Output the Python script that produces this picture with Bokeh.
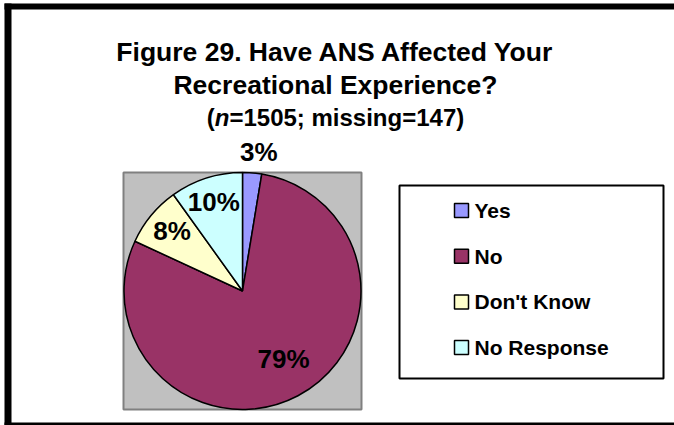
import math
from bokeh.plotting import figure
from bokeh.models import Range1d, ColumnDataSource
from bokeh.core.properties import value
from bokeh.embed import file_html
from bokeh.resources import INLINE

# ---- data ----
categories = ["Yes", "No", "Don't Know", "No Response"]
percents = [2.6, 79.3, 8.2, 9.9]
colors = ["#9999FF", "#993366", "#FFFFCC", "#CCFFFF"]
title_lines = ["Figure 29. Have ANS Affected Your", "Recreational Experience?"]
subtitle_parts = ["(", "n", "=1505; missing=147)"]

W, H = 674, 425
FONT = "Liberation Sans"


def Y(sy):
    # screen y (from top) -> data y (from bottom)
    return H - sy


p = figure(width=W, height=H, output_backend="svg", toolbar_location=None,
           x_range=Range1d(0, W), y_range=Range1d(0, H), min_border=0,
           background_fill_color="white", border_fill_color="white")
p.axis.visible = False
p.grid.visible = False
p.outline_line_color = None

# outer chart border (visible parts), drawn as thick lines
p.segment(x0=[7.5], y0=[Y(3)], x1=[7.5], y1=[0], line_color="black", line_width=7)
p.segment(x0=[4], y0=[Y(6)], x1=[W], y1=[Y(6)], line_color="black", line_width=6)
p.segment(x0=[4], y0=[Y(423.5)], x1=[W], y1=[Y(423.5)], line_color="black", line_width=3)

# plot area (gray box)
p.rect(x=[242], y=[Y(290.5)], width=238, height=237, fill_color="#C0C0C0",
       line_color="#808080", line_width=2)

# pie
cx, cy, r = 242, Y(290.5), 118.5
total = sum(percents)
starts, ends, mids = [], [], []
cum = 0.0
for v in percents:
    f0 = cum / total
    cum += v
    f1 = cum / total
    starts.append(math.pi / 2 - 2 * math.pi * f0)
    ends.append(math.pi / 2 - 2 * math.pi * f1)
    mids.append(math.pi / 2 - 2 * math.pi * (f0 + f1) / 2)

src = ColumnDataSource(dict(start=starts, end=ends, color=colors, cat=categories))
p.wedge(x=cx, y=cy, radius=r, start_angle="start", end_angle="end", direction="clock",
        fill_color="color", line_color="black", line_width=1.5, source=src)

# data labels (distance from centre and small sideways nudge)
label_dist = [139, 77, 94, 94]
label_dx = [5, 5, 2, 0]
lx = [cx + d * math.cos(a) + n for d, a, n in zip(label_dist, mids, label_dx)]
ly = [cy + d * math.sin(a) for d, a in zip(label_dist, mids)]
ltxt = [f"{round(v)}%" for v in percents]
p.text(x=lx, y=ly, text=ltxt, text_align="center", text_baseline="middle",
       text_font=value(FONT), text_font_style="bold", text_font_size="26px",
       text_color="black")

# title
tx = 335
p.text(x=[tx, tx], y=[Y(51), Y(84)], text=title_lines, text_align="center",
       text_baseline="alphabetic", text_font=value(FONT), text_font_style="bold",
       text_font_size="26.5px", text_color="black")

# subtitle with italic n
fs = 24
em_paren, em_n = 0.333, 0.611
em_rest = 9.783
total_w = (em_paren + em_n + em_rest) * fs
x0 = tx - total_w / 2
sy = Y(117)
p.text(x=[x0], y=[sy], text=[subtitle_parts[0]], text_align="left", text_baseline="alphabetic",
       text_font=value(FONT), text_font_style="bold", text_font_size=f"{fs}px", text_color="black")
p.text(x=[x0 + em_paren * fs], y=[sy], text=[subtitle_parts[1]], text_align="left",
       text_baseline="alphabetic", text_font=value(FONT), text_font_style="bold italic",
       text_font_size=f"{fs}px", text_color="black")
p.text(x=[x0 + (em_paren + em_n) * fs], y=[sy], text=[subtitle_parts[2]], text_align="left",
       text_baseline="alphabetic", text_font=value(FONT), text_font_style="bold",
       text_font_size=f"{fs}px", text_color="black")

# legend box
p.rect(x=[531], y=[Y(281.5)], width=264, height=193, fill_color="white",
       line_color="black", line_width=2)
ley0, lsp = Y(210), 45.7
ley = [ley0 - i * lsp for i in range(len(categories))]
p.rect(x=[461] * len(categories), y=ley, width=14, height=14, fill_color=colors,
       line_color="black", line_width=1.5)
p.text(x=[474] * len(categories), y=ley, text=categories, text_align="left",
       text_baseline="middle", text_font=value(FONT), text_font_style="bold",
       text_font_size="21px", text_color="black")

open("out.html", "w").write(file_html(p, INLINE))
